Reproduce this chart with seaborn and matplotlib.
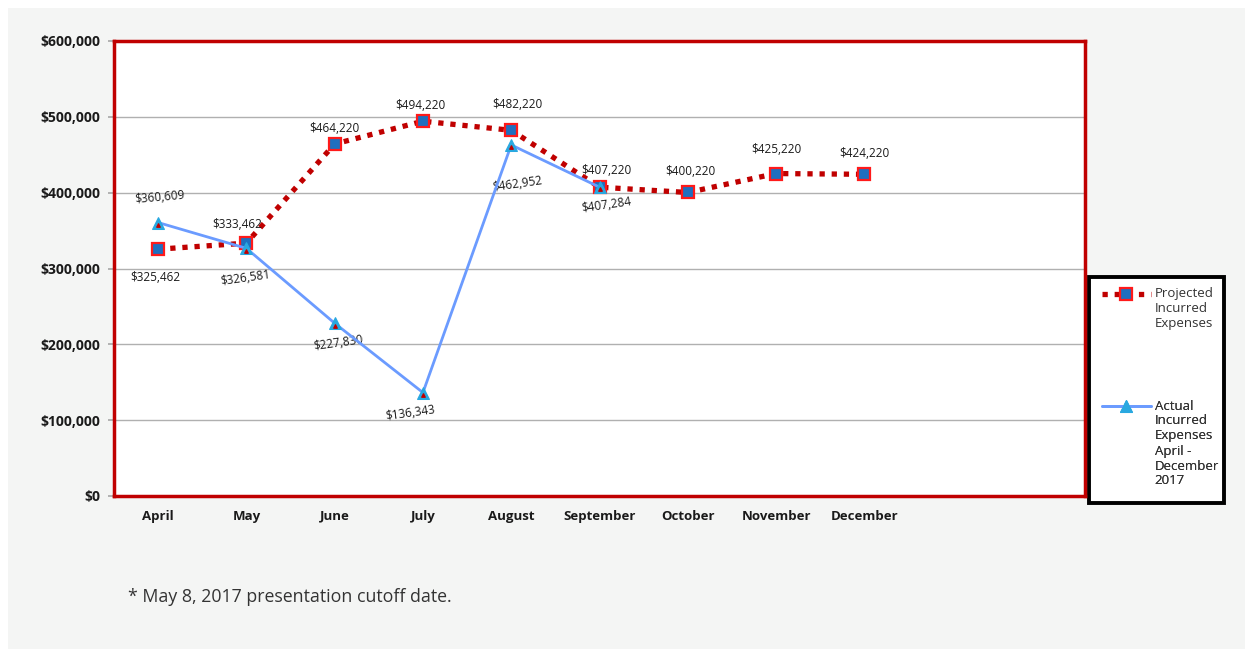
import numpy as np
import matplotlib.pyplot as plt
import pandas as pd
import seaborn as sns
from matplotlib.patches import Rectangle

# chart data
months = ["April", "May", "June", "July", "August", "September",
          "October", "November", "December", "", ""]
projected = [325462, 333462, 464220, 494220, 482220, 407220, 400220, 425220, 424220]
actual = [360609, 326581, 227830, 136343, 462952, 407284]
proj_name = ["Projected", "Incurred", "Expenses"]
act_name = ["Actual", "Incurred", "Expenses", "April -", "December", "2017"]

proj_label_off = [(-3, -28), (-9, 19), (0, 15), (-3, 16), (6, 26), (7, 17), (3, 21), (0, 24), (0, 21)]
act_label_off = [(2, 25), (-1, -30), (4, -20), (-13, -20), (6, -39), (7, -18)]
act_label_rot = [5, 8, 8, 8, 8, 8]

sns.set_theme(style="white")
plt.rcParams['font.family'] = ['Open Sans', 'DejaVu Sans']

proj_df = pd.DataFrame({"x": np.arange(len(projected)), "value": projected})
act_df = pd.DataFrame({"x": np.arange(len(actual)), "value": actual})

fig = plt.figure(figsize=(12.45, 6.49), dpi=100)
fig.patch.set_facecolor("white")
fig.patches.append(Rectangle((8 / 1245, 0), 1 - 8 / 1245, 1 - 8 / 649, transform=fig.transFigure,
                             facecolor="#f4f5f4", edgecolor="none", zorder=-10))
ax = fig.add_axes([114 / 1245, 1 - 496 / 649, 971 / 1245, 455 / 649])
ax.set_facecolor("white")

sns.lineplot(data=proj_df, x="x", y="value", ax=ax, color="#c00000", linewidth=3.8,
             linestyle=(0, (1, 1.3)), marker="s", markersize=8, markerfacecolor="#1f6fbf",
             markeredgecolor="#ff1a1a", markeredgewidth=1.6, zorder=3, legend=False)
sns.lineplot(data=act_df, x="x", y="value", ax=ax, color="#6b9bff", linewidth=2,
             marker="^", markersize=8, markerfacecolor="#29a8e0", markeredgecolor="#29a8e0",
             zorder=4, legend=False)
# small red dot inside the triangles
ax.scatter(act_df["x"], act_df["value"] - 3000, marker="^", s=6, color="#c00000", zorder=5)

for i, v in enumerate(projected):
    ax.annotate(f"${v:,}", (i, v), xytext=proj_label_off[i], textcoords="offset pixels",
                ha="center", va="center", fontsize=8.5, color="#1a1a1a")
for i, v in enumerate(actual):
    ax.annotate(f"${v:,}", (i, v), xytext=act_label_off[i], textcoords="offset pixels",
                ha="center", va="center", fontsize=8.5, color="#1a1a1a", rotation=act_label_rot[i])

ax.set_xlim(-0.5, len(months) - 0.5)
ax.set_ylim(0, 600000)
ax.set_xticks(np.arange(len(months)))
ax.set_xticklabels(months, fontsize=9.5, fontweight="bold", color="#1a1a1a")
ax.set_xticks(np.arange(len(months) + 1) - 0.5, minor=True)
ax.tick_params(axis="x", which="major", length=0, pad=10)
ax.tick_params(axis="x", which="minor", length=4, color="#aaaaaa", direction="out")
ax.set_yticks(np.arange(0, 600001, 100000))
ax.set_yticklabels([f"${v:,}" for v in range(0, 600001, 100000)], fontsize=10,
                   fontweight="bold", color="#1a1a1a")
ax.tick_params(axis="y", length=4, color="#aaaaaa", left=True, pad=6)
ax.grid(axis="y", color="#b0b0b0", linewidth=1)
ax.set_xlabel("")
ax.set_ylabel("")
for s in ax.spines.values():
    s.set_color("#c00000")
    s.set_linewidth(2.5)

# legend box outside the plot
fig.patches.append(Rectangle((1089 / 1245, 1 - 503 / 649), 135 / 1245, 226 / 649,
                             transform=fig.transFigure, facecolor="white", edgecolor="black",
                             linewidth=2.8, zorder=-5))
lines = ax.get_lines()
# blank lines in front so the handle sits level with the first text line
entries = [(lines[0], proj_name, 294), (lines[1], act_name, 406)]
for handle, name, ytop in entries:
    label = "\n" * (len(name) - 1) + "\n".join(name)
    leg = ax.legend([handle], [label], loc="center left",
                    bbox_to_anchor=(1102 / 1245, 1 - ytop / 649), bbox_transform=fig.transFigure,
                    fontsize=9.5, frameon=False, handlelength=3.7, handletextpad=0.3,
                    borderpad=0, borderaxespad=0)
    for t in leg.get_texts():
        t.set_color("#333333")
        t.set_linespacing(1.2)
    leg.set_zorder(6)
    ax.add_artist(leg)

fig.text(128 / 1245, 1 - 597 / 649, "* May 8, 2017 presentation cutoff date.", fontsize=12.8,
         color="#333333", va="center")

fig.savefig("out.png", dpi=100)
